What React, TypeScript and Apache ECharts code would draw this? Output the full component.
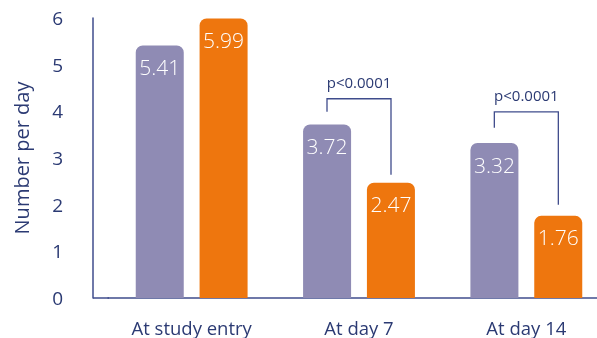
import React, { useEffect, useRef } from "react";
import * as echarts from "echarts";

const categories = ["At study entry", "At day 7", "At day 14"];
const seriesA = [5.41, 3.72, 3.32];
const seriesB = [5.99, 2.47, 1.76];
const yTicks = [0, 1, 2, 3, 4, 5, 6];
// bracket: [categoryIndex, leftBottom, top, rightBottom, label]
const bracketCats = [1, 2];
const bracketLeft = [3.99, 3.65];
const bracketTop = [4.27, 3.99];
const bracketRight = [2.64, 2.0];
const bracketLabels = ["p<0.0001", "p<0.0001"];

const NAVY = "#2B3A73";
const LINE = "#3F4C8C";
const PURPLE = "#8F8BB4";
const ORANGE = "#EE760E";
const FONT = "'Open Sans', sans-serif";

export default function App() {
  const ref = useRef<HTMLDivElement>(null);
  useEffect(() => {
    if (!ref.current) return;
    const chart = echarts.init(ref.current, null, { renderer: "svg" });
    const half = 32;
    chart.setOption({
      animation: false,
      grid: { left: 108, width: 502, top: 18, bottom: 40, outerBoundsMode: "none", containLabel: false },
      xAxis: {
        type: "category",
        data: categories,
        axisLine: { show: true, lineStyle: { color: LINE, width: 1.5 } },
        axisTick: { show: false },
        axisLabel: { color: NAVY, fontSize: 18.5, lineHeight: 18, fontFamily: FONT, margin: 20 },
      },
      yAxis: {
        type: "value",
        min: yTicks[0],
        max: yTicks[yTicks.length - 1],
        interval: 1,
        offset: 15,
        name: "Number per day",
        nameLocation: "middle",
        nameGap: 62,
        nameTextStyle: { color: NAVY, fontSize: 20, fontFamily: FONT },
        axisLine: { show: true, lineStyle: { color: LINE, width: 1.5 } },
        axisTick: { show: false },
        splitLine: { show: false },
        axisLabel: { color: NAVY, fontSize: 19, fontFamily: FONT, margin: 30 },
      },
      graphic: [
        {
          type: "line",
          shape: { x1: 93, y1: 298, x2: 109, y2: 298 },
          style: { stroke: LINE, lineWidth: 1.5 },
        },
      ],
      series: [
        {
          type: "bar",
          data: seriesA,
          barWidth: 48,
          barGap: "33%",
          itemStyle: { color: PURPLE, borderRadius: [7, 7, 0, 0] },
          label: {
            show: true,
            position: "insideTop",
            distance: 11,
            color: "#fff",
            fontSize: 21,
            fontWeight: 300,
            fontFamily: FONT,
          },
        },
        {
          type: "bar",
          data: seriesB,
          barWidth: 48,
          itemStyle: { color: ORANGE, borderRadius: [7, 7, 0, 0] },
          label: {
            show: true,
            position: "insideTop",
            distance: 11,
            color: "#fff",
            fontSize: 21,
            fontWeight: 300,
            fontFamily: FONT,
          },
        },
        {
          type: "custom",
          data: bracketCats.map((c, i) => [c, bracketLeft[i], bracketTop[i], bracketRight[i]]),
          renderItem: (params: any, api: any) => {
            const c = api.value(0);
            const lb = api.coord([c, api.value(1)]);
            const tp = api.coord([c, api.value(2)]);
            const rb = api.coord([c, api.value(3)]);
            const cx = lb[0];
            const xl = cx - half;
            const xr = cx + half;
            return {
              type: "group",
              children: [
                {
                  type: "polyline",
                  shape: { points: [[xl, lb[1]], [xl, tp[1]], [xr, tp[1]], [xr, rb[1]]] },
                  style: { stroke: LINE, lineWidth: 1.3, fill: "none" },
                },
                {
                  type: "text",
                  x: cx,
                  y: tp[1] - 9,
                  style: {
                    text: bracketLabels[params.dataIndex],
                    fill: NAVY,
                    fontSize: 15,
                    fontFamily: FONT,
                    align: "center",
                    verticalAlign: "bottom",
                  },
                },
              ],
            };
          },
          z: 5,
        },
      ],
    });
    return () => chart.dispose();
  }, []);
  return (
    <div
      ref={ref}
      style={{ position: "fixed", left: 0, top: 0, width: 597, height: 338 }}
    />
  );
}
